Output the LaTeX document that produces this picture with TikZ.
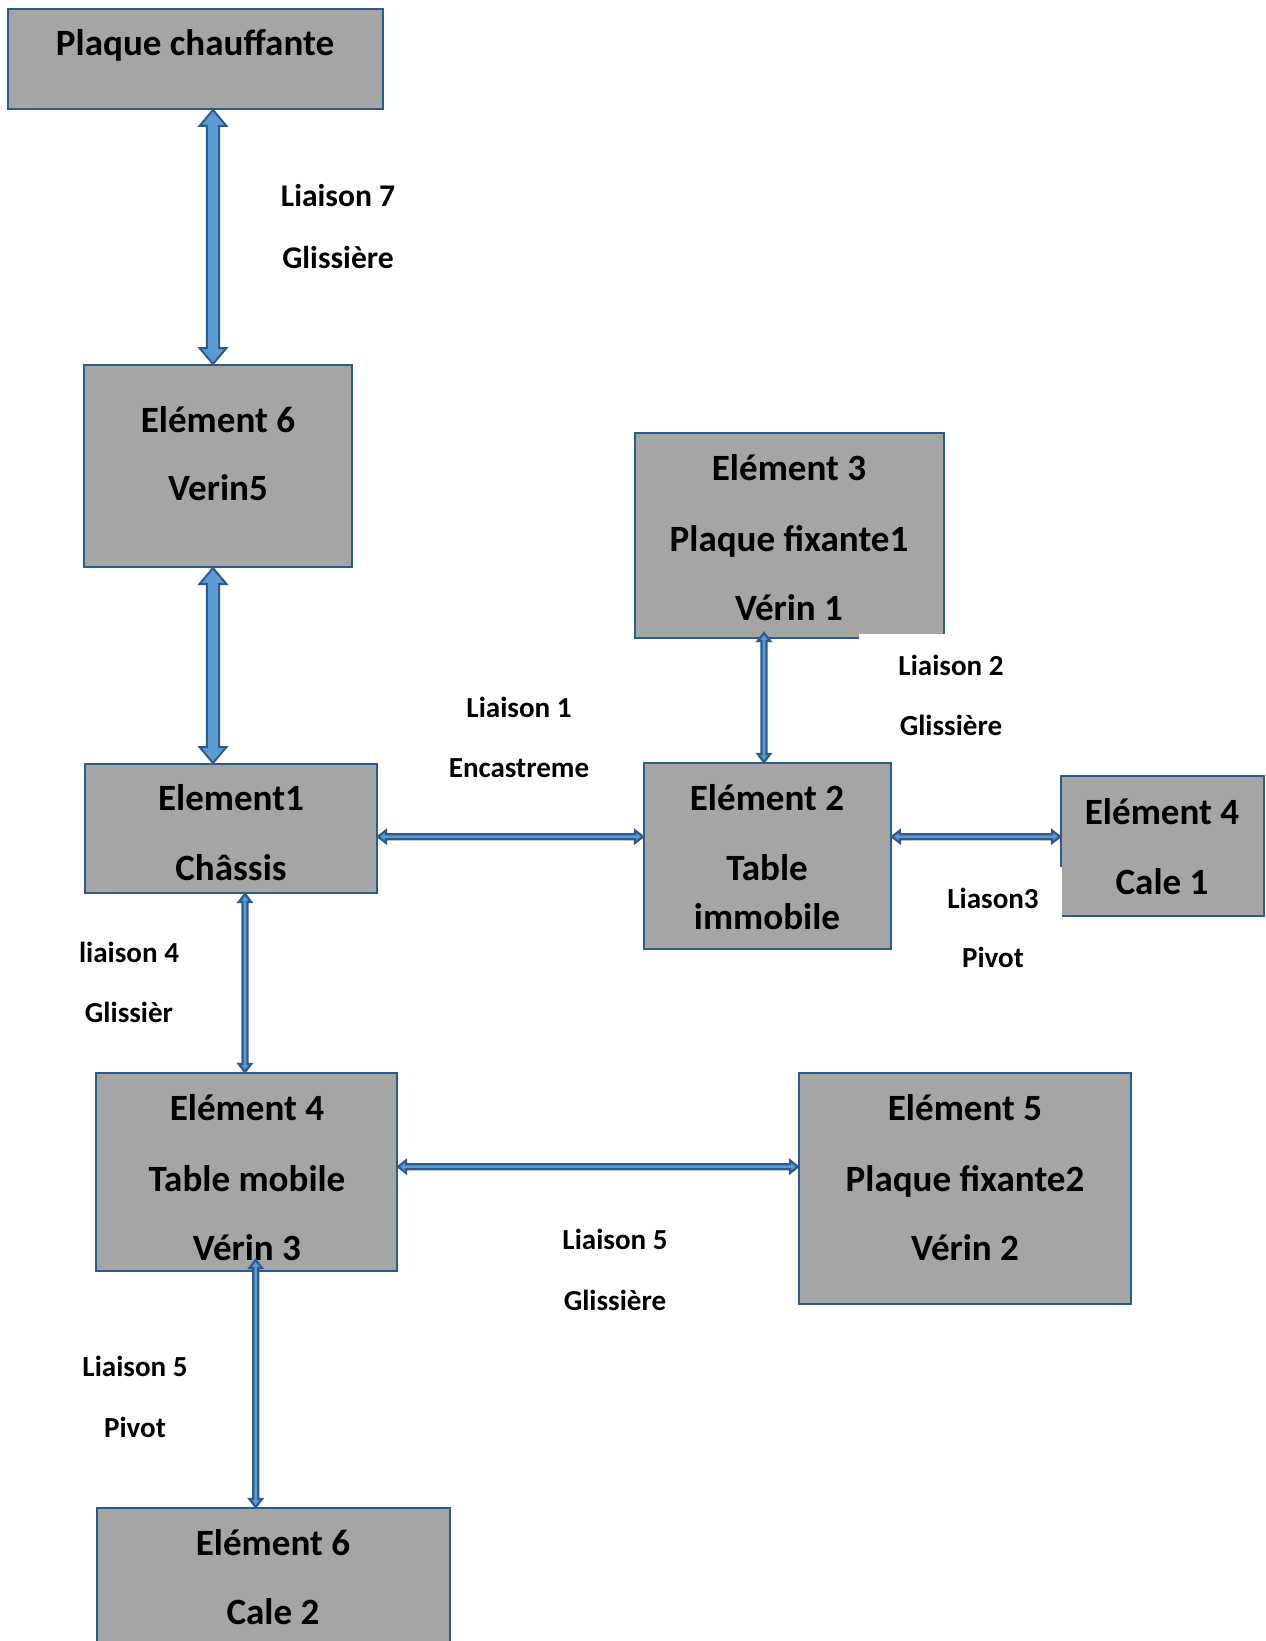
\documentclass[tikz,border=0pt]{standalone}
\usepackage{fontspec}
\setmainfont{Carlito}
\usetikzlibrary{calc}

\definecolor{boxgray}{HTML}{A5A5A5}
\definecolor{edgeblue}{HTML}{2F5B8C}
\definecolor{arrowfill}{HTML}{5B9BD5}

\tikzset{
  box/.style={rectangle, draw=edgeblue, fill=boxgray, line width=1.5pt, inner sep=0pt},
  boxtext/.style={anchor=base, inner sep=0pt, font=\fontsize{27.8}{33}\selectfont\bfseries},
  labtext/.style={anchor=base, inner sep=0pt, font=\fontsize{21.8}{26}\selectfont\bfseries},
  biglabtext/.style={labtext, font=\fontsize{23.7}{28}\selectfont\bfseries},
  labbg/.style={rectangle, fill=white, draw=none, inner sep=0pt},
  widelink/.style={draw=edgeblue, fill=arrowfill, line width=1.5pt, line join=miter},
  narrowlink/.style={draw=edgeblue, fill=arrowfill, line width=1.7pt, line join=miter},
}

% double-headed block arrow, vertical: #1 style, #2 upper end, #3 lower end,
% #4 half shaft width, #5 half head width, #6 head length
\newcommand{\vlink}[6]{%
  \filldraw[#1] let \p1=(#2), \p2=(#3) in
    (\x1,\y1) -- (\x1+#5,\y1-#6) -- (\x1+#4,\y1-#6) -- (\x2+#4,\y2+#6)
    -- (\x2+#5,\y2+#6) -- (\x2,\y2) -- (\x2-#5,\y2+#6) -- (\x2-#4,\y2+#6)
    -- (\x1-#4,\y1-#6) -- (\x1-#5,\y1-#6) -- cycle;}
% same, horizontal: #2 left end, #3 right end
\newcommand{\hlink}[6]{%
  \filldraw[#1] let \p1=(#2), \p2=(#3) in
    (\x1,\y1) -- (\x1+#6,\y1+#5) -- (\x1+#6,\y1+#4) -- (\x2-#6,\y2+#4)
    -- (\x2-#6,\y2+#5) -- (\x2,\y2) -- (\x2-#6,\y2-#5) -- (\x2-#6,\y2-#4)
    -- (\x1+#6,\y1-#4) -- (\x1+#6,\y1-#5) -- cycle;}

\begin{document}
\begin{tikzpicture}[x=0.75pt, y=-0.75pt]
\clip (0,0) rectangle (1265,1641);
\fill[white] (0,0) rectangle (1265,1641);

% parts
\node[box, minimum width=281.25pt, minimum height=75pt]    (plaque) at (195.5,59)   {};
\node[box, minimum width=201pt,    minimum height=151.5pt] (e6v)    at (218,466)    {};
\node[box, minimum width=219pt,    minimum height=96.75pt] (e1)     at (231,828.5)  {};
\node[box, minimum width=231.75pt, minimum height=153.75pt](e3)     at (789.5,535.5){};
\node[box, minimum width=185.25pt, minimum height=139.5pt] (e2)     at (767.5,856)  {};
\node[box, minimum width=152.25pt, minimum height=105pt]   (cale1)  at (1162.5,846) {};
\node[box, minimum width=225.75pt, minimum height=148.5pt] (tm)     at (246.5,1172) {};
\node[box, minimum width=249pt,    minimum height=173.25pt](e5)     at (965,1188.5) {};
\node[box, minimum width=264.75pt, minimum height=114pt]   (cale2)  at (273.5,1584) {};

% part names
\node[boxtext] (tplaque) at (195,56)    {Plaque chauffante};
\node[boxtext] (te6a)    at (218,432)   {Elément 6};
\node[boxtext] (te6b)    at (218,500.6) {Verin5};
\node[boxtext] (te1a)    at (231,810)   {Element1};
\node[boxtext] (te1b)    at (231,880.5) {Châssis};
\node[boxtext] (te3a)    at (789,480)   {Elément 3};
\node[boxtext] (te3b)    at (789,551)   {Plaque fixante1};
\node[boxtext] (te3c)    at (789,620)   {Vérin 1};
\node[boxtext] (te2a)    at (767,810)   {Elément 2};
\node[boxtext] (te2b)    at (767,880.5) {Table};
\node[boxtext] (te2c)    at (767,929.6) {immobile};
\node[boxtext] (tc1a)    at (1162,824)  {Elément 4};
\node[boxtext] (tc1b)    at (1162,894)  {Cale 1};
\node[boxtext] (ttma)    at (247,1120)  {Elément 4};
\node[boxtext] (ttmb)    at (247,1191)  {Table mobile};
\node[boxtext] (ttmc)    at (247,1260)  {Vérin 3};
\node[boxtext] (te5a)    at (965,1120)  {Elément 5};
\node[boxtext] (te5b)    at (965,1191)  {Plaque fixante2};
\node[boxtext] (te5c)    at (965,1260)  {Vérin 2};
\node[boxtext] (tc2a)    at (273,1555)  {Elément 6};
\node[boxtext] (tc2b)    at (273,1624)  {Cale 2};

% text frames of two joint labels
\node[labbg, minimum width=138pt,   minimum height=88.5pt] (bg2) at (951,693)    {};
\node[labbg, minimum width=104.6pt, minimum height=88.5pt] (bg3) at (992.75,926) {};

% joint labels
\node[biglabtext] (l7a) at (338,206)  {Liaison 7};
\node[biglabtext] (l7b) at (338,268)  {Glissière};
\node[labtext] (l2a) at (951,675)  {Liaison 2};
\node[labtext] (l2b) at (951,735)  {Glissière};
\node[labtext] (l1a) at (519,717)  {Liaison 1};
\node[labtext] (l1b) at (519,777)  {Encastreme};
\node[labtext] (l3a) at (993,908)  {Liason3};
\node[labtext] (l3b) at (993,967)  {Pivot};
\node[labtext] (l4a) at (129,962)  {liaison 4};
\node[labtext] (l4b) at (129,1022) {Glissièr};
\node[labtext] (l5a) at (615,1249) {Liaison 5};
\node[labtext] (l5b) at (615,1310) {Glissière};
\node[labtext] (l6a) at (135,1376) {Liaison 5};
\node[labtext] (l6b) at (135,1437) {Pivot};

% connector lines
\coordinate (c7) at (213,0);
\coordinate (c2) at (764,0);
\coordinate (c4) at (245,0);
\coordinate (c5) at (255.7,0);
\coordinate (r1) at (0,836.7);
\coordinate (r5) at (0,1166.7);

\vlink{widelink}{plaque.south -| c7}{e6v.north -| c7}{4.6pt}{10.1pt}{12pt}
\vlink{widelink}{e6v.south -| c7}{e1.north -| c7}{4.6pt}{10.1pt}{12pt}
\vlink{narrowlink}{$(e3.south -| c2)+(0,-6)$}{e2.north -| c2}{1.9pt}{4.65pt}{6pt}
\vlink{narrowlink}{e1.south -| c4}{tm.north -| c4}{1.9pt}{4.65pt}{6pt}
\vlink{narrowlink}{$(tm.south -| c5)+(0,-12)$}{cale2.north -| c5}{1.9pt}{4.65pt}{6pt}
\hlink{narrowlink}{e1.east |- r1}{e2.west |- r1}{1.9pt}{4.65pt}{6pt}
\hlink{narrowlink}{e2.east |- r1}{cale1.west |- r1}{1.9pt}{4.65pt}{6pt}
\hlink{narrowlink}{tm.east |- r5}{e5.west |- r5}{1.9pt}{4.65pt}{6pt}
\end{tikzpicture}
\end{document}
